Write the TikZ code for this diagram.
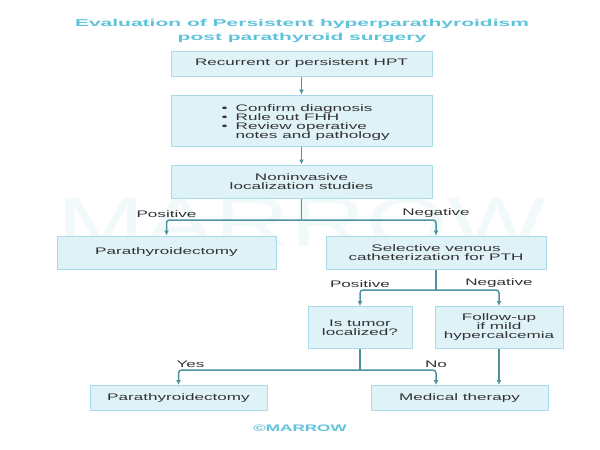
\documentclass[tikz,border=0pt]{standalone}
\usepackage{fontspec}
\setmainfont{Liberation Sans}[FakeStretch=1.8]
\newfontfamily\titlefont{Liberation Sans}[FakeStretch=2.1]
\newfontfamily\markfont{Liberation Sans}[FakeStretch=1.5]
\usetikzlibrary{arrows.meta,positioning}
\definecolor{boxfill}{HTML}{DFF2F8}
\definecolor{boxline}{HTML}{A8DAE8}
\definecolor{flow}{HTML}{4E929F}
\definecolor{heading}{HTML}{5FC3DB}
\definecolor{txt}{HTML}{333333}
\definecolor{wmark}{HTML}{F1F9FB}
\newcommand{\itm}{\makebox[14pt][l]{\textbullet}}

\begin{document}
\begin{tikzpicture}[
  x=1pt, y=-1pt,
  box/.style={draw=boxline, fill=boxfill, line width=1pt, inner sep=0pt, align=center, text=txt, font=\fontsize{9.5}{9}\selectfont},
  arrow/.style={-{Latex[length=5pt,width=5pt]}, flow, line width=1.5pt, rounded corners=3pt},
  stem/.style={flow, line width=1.5pt},
  lbl/.style={text=txt, font=\fontsize{9.5}{9.5}\selectfont, above, inner sep=2pt}
]
  \fill[white] (0,0) rectangle (600,450);
  \useasboundingbox (0,0) rectangle (600,450);

  % watermark and heading
  \node[text=wmark, font=\markfont\fontsize{70}{70}\selectfont] (mark) at (302,222) {MARROW};
  \node[text=heading, align=center, font=\titlefont\bfseries\fontsize{10}{14}\selectfont] (title) at (302,31) {Evaluation of Persistent hyperparathyroidism\\post parathyroid surgery};

  % main column
  \node[box, minimum width=261pt, minimum height=25pt] (hpt) at (301.5,63.5) {Recurrent or persistent HPT};
  \node[box, minimum width=261pt, minimum height=51pt] (workup) at (301.5,120.5) {};
  \node[text=txt, align=left, inner sep=0pt, anchor=west, yshift=-2pt, font=\fontsize{9.5}{9}\selectfont] (workuptext) at ([xshift=51pt]workup.west) {\itm Confirm diagnosis\\\itm Rule out FHH\\\itm Review operative\\\hspace*{14pt}notes and pathology};
  \node[box, minimum width=261pt, minimum height=33pt] (noninv) at (301.5,181.5) {Noninvasive\\localization studies};

  \draw[arrow] (hpt) -- (workup);
  \draw[arrow] (workup) -- (noninv);

  % first split
  \node[box, minimum width=219pt, minimum height=33pt] (ptx1) at (166.5,252.5) {Parathyroidectomy};
  \node[box, minimum width=220pt, minimum height=33pt] (svc) at (436,252.5) {Selective venous\\catheterization for PTH};

  \coordinate (split1) at (301.5,220);
  \draw[stem] (noninv) -- (split1);
  \draw[arrow] (split1) -| node[lbl]{Positive} (ptx1.north);
  \draw[arrow] (split1) -| node[lbl]{Negative} (svc.north);

  % venous sampling
  \node[box, minimum width=104pt, minimum height=42pt] (tumor) at (360,327.5) {Is tumor\\localized?};
  \node[box, minimum width=128pt, minimum height=42pt] (followup) at (499,327.5) {Follow-up\\if mild\\hypercalcemia};

  \coordinate (split2) at (436,290);
  \draw[stem] (svc) -- (split2);
  \draw[arrow] (split2) -| node[lbl]{Positive} (tumor.north);
  \draw[arrow] (split2) -| node[lbl]{Negative} (followup.north);

  % outcome
  \node[box, minimum width=177pt, minimum height=25pt] (ptx2) at (178.5,398) {Parathyroidectomy};
  \node[box, minimum width=177pt, minimum height=25pt] (medical) at (459.5,398) {Medical therapy};

  \coordinate (split3) at (360,370);
  \draw[stem] (tumor) -- (split3);
  \draw[arrow] (split3) -| node[lbl, xshift=12pt]{Yes} (ptx2.north);
  \draw[arrow] (split3) -| node[lbl]{No} ([xshift=-23.5pt]medical.north);
  \draw[arrow] (followup) -- (followup |- medical.north);

  \node[text=heading, font=\bfseries\fontsize{9.5}{9.5}\selectfont] (logo) at (300,428) {©MARROW};
\end{tikzpicture}
\end{document}
